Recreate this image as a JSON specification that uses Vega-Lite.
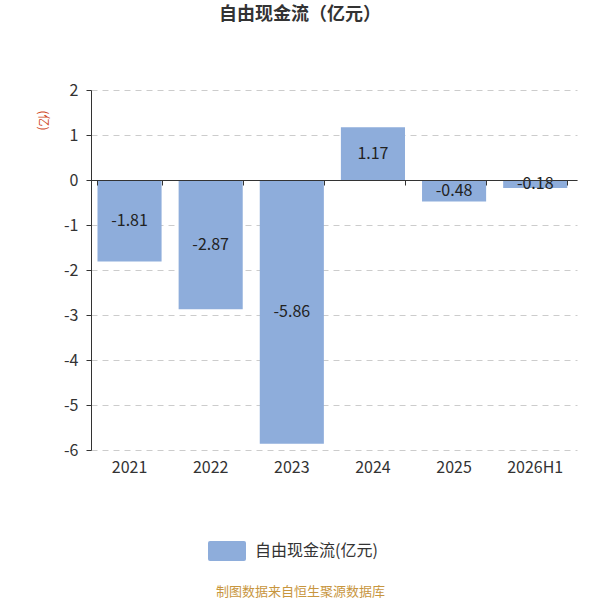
{
  "$schema": "https://vega.github.io/schema/vega-lite/v6.json",
  "description": "Free cash flow bar chart, 100 million yuan.",
  "autosize": {"type": "none"},
  "width": 486,
  "height": 360,
  "padding": {"left": 91, "top": 90, "right": 23, "bottom": 150},
  "title": {
    "text": "自由现金流（亿元）",
    "fontSize": 18,
    "fontWeight": "bold",
    "color": "#333333",
    "anchor": "middle",
    "dx": -34,
    "offset": 58
  },
  "data": {
    "values": [
      {"period": "2021", "value": -1.81, "series": "自由现金流(亿元)"},
      {"period": "2022", "value": -2.87, "series": "自由现金流(亿元)"},
      {"period": "2023", "value": -5.86, "series": "自由现金流(亿元)"},
      {"period": "2024", "value": 1.17, "series": "自由现金流(亿元)"},
      {"period": "2025", "value": -0.48, "series": "自由现金流(亿元)"},
      {"period": "2026H1", "value": -0.18, "series": "自由现金流(亿元)"}
    ]
  },
  "layer": [
    {
      "mark": {"type": "bar"},
      "encoding": {
        "x": {
          "field": "period",
          "type": "nominal",
          "sort": null,
          "scale": {"paddingInner": 0.21, "paddingOuter": 0.1, "align": 0.4},
          "axis": {
            "orient": "bottom",
            "domain": false,
            "ticks": false,
            "grid": false,
            "labelAngle": 0,
            "labelFontSize": 16,
            "labelColor": "#333333",
            "labelPadding": 9,
            "title": "制图数据来自恒生聚源数据库",
            "titleFontSize": 13,
            "titleFontWeight": "normal",
            "titleColor": "#c8963e",
            "titleX": 209,
            "titleY": 141,
            "titleBaseline": "middle"
          }
        },
        "y": {
          "field": "value",
          "type": "quantitative",
          "scale": {"domain": [-6, 2], "nice": false},
          "axis": {
            "values": [-6, -5, -4, -3, -2, -1, 0, 1, 2],
            "format": "d",
            "labelFontSize": 16,
            "labelColor": "#333333",
            "labelPadding": 8,
            "tickSize": 5,
            "tickColor": "#333333",
            "domainColor": "#333333",
            "grid": true,
            "gridColor": "#cccccc",
            "gridDash": [6, 5],
            "title": "(亿)",
            "titleAngle": 90,
            "titleFontSize": 12,
            "titleFontWeight": "normal",
            "titleColor": "#d04a2a",
            "titleX": -49,
            "titleY": 30,
            "titleAlign": "center",
            "titleBaseline": "middle"
          }
        },
        "color": {
          "field": "series",
          "type": "nominal",
          "scale": {"range": ["#8eaddb"]},
          "legend": {
            "title": null,
            "orient": "none",
            "legendX": 126,
            "legendY": 451,
            "symbolType": "M-1.7,-1H1.7Q1.9,-1 1.9,-0.8V0.8Q1.9,1 1.7,1H-1.7Q-1.9,1 -1.9,0.8V-0.8Q-1.9,-1 -1.7,-1Z",
            "symbolSize": 400,
            "symbolStrokeWidth": 0,
            "labelOffset": 18,
            "labelFontSize": 16,
            "labelColor": "#333333"
          }
        }
      }
    },
    {
      "mark": {"type": "text", "fontSize": 16, "color": "#222222"},
      "encoding": {
        "x": {
          "field": "period",
          "type": "nominal",
          "sort": null,
          "axis": {
            "orient": "bottom",
            "offset": -270,
            "labels": false,
            "grid": false,
            "domain": true,
            "domainColor": "#333333",
            "ticks": true,
            "tickBand": "extent",
            "tickSize": 5,
            "tickColor": "#333333",
            "title": null,
            "zindex": 1
          }
        },
        "y": {
          "field": "value",
          "type": "quantitative",
          "scale": {"domain": [-12, 4], "nice": false},
          "axis": null
        },
        "text": {"field": "value", "type": "quantitative", "format": ".2f"}
      }
    }
  ],
  "resolve": {
    "scale": {"y": "independent"},
    "axis": {"x": "independent", "y": "independent"}
  },
  "config": {
    "font": "Noto Sans CJK SC",
    "view": {"stroke": null},
    "locale": {
      "number": {
        "decimal": ".",
        "thousands": ",",
        "grouping": [3],
        "currency": ["", ""],
        "minus": "-"
      }
    }
  }
}
